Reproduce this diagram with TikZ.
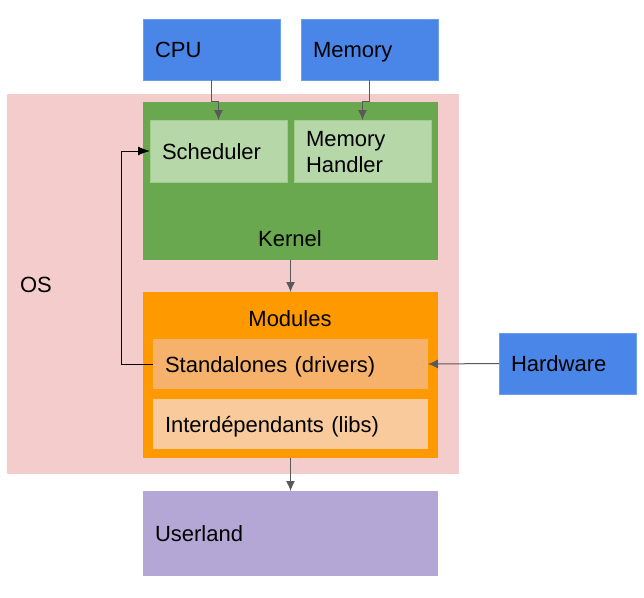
\documentclass[tikz,border=0pt]{standalone}
\usepackage{fontspec}
\setmainfont{Liberation Sans}
\usetikzlibrary{arrows.meta,positioning,calc}
\definecolor{osbg}{HTML}{F4CCCC}
\definecolor{hwblue}{HTML}{4A86E8}
\definecolor{hwedge}{HTML}{6D9EEB}
\definecolor{kgreen}{HTML}{6AA84F}
\definecolor{kpart}{HTML}{B6D7A8}
\definecolor{kedge}{HTML}{A2CC8E}
\definecolor{modorange}{HTML}{FF9900}
\definecolor{modstand}{HTML}{F6B26B}
\definecolor{modinter}{HTML}{F9CB9C}
\definecolor{userpurple}{HTML}{B4A7D6}
\definecolor{arrgray}{HTML}{595959}

\begin{document}
\begin{tikzpicture}[x=1pt, y=-1pt, font=\fontsize{22}{26}\selectfont,
  every node/.style={text height=16pt, text depth=0pt},
  area/.style={anchor=north west, inner xsep=12pt, inner ysep=0pt, outer sep=0pt, align=left},
  ext/.style={area, fill=hwblue, draw=hwedge, line width=1pt},
  part/.style={area, fill=kpart, draw=kedge, line width=1pt},
  arr/.style={-{Latex[length=10pt,width=9pt]}, draw=arrgray, line width=1pt},
  link/.style={-{Latex[length=12pt,width=9pt]}, draw=black, line width=1pt}]
\useasboundingbox (0,0) rectangle (644,597);

% os frame
\node[area, fill=osbg, inner xsep=13pt, minimum height=380pt, text width=426pt] (os) at (7,94) {OS};

% outside blocks
\node[ext, minimum height=61pt, text width=113pt] (cpu) at (143,19) {CPU};
\node[ext, minimum height=61pt, text width=113pt] (mem) at (301,19) {Memory};
\node[ext, minimum height=61pt, text width=113pt] (hw) at (499,333) {Hardware};
\node[area, fill=userpurple, minimum height=85pt, text width=271pt] (userland) at (143,491) {Userland};

% kernel
\node[area, fill=kgreen, minimum width=295pt, minimum height=158pt] (kernel) at (143,102) {};
\node[part, minimum height=62pt, text width=113pt] (sched) at (150,120) {Scheduler};
\node[part, minimum height=62pt, text width=113pt, text depth=26pt] (memh) at (294,120) {Memory\\Handler};
\node (kernellbl) at (290,238) {Kernel};

% modules
\node[area, fill=modorange, minimum width=295pt, minimum height=166pt] (modules) at (143,292) {};
\node (moduleslbl) at (290,318) {Modules};
\node[area, fill=modstand, minimum height=50pt, text width=251pt] (stand) at (153,339) {Standalones (drivers)};
\node[area, fill=modinter, minimum height=50pt, text width=251pt] (inter) at (153,399) {Interdépendants (libs)};

\draw[arr] (cpu.south) -- ++(0,21) -| (sched.north);
\draw[arr] (mem.south) -- ++(0,21) -| (memh.north);
\draw[arr] (kernel.south) -- (modules.north);
\draw[arr] (modules.south) -- (userland.north);
\draw[arr] (hw.west) -- (stand.east);
\draw[link] (stand.west) -- ++(-32,0) |- (sched.west);
\end{tikzpicture}
\end{document}
